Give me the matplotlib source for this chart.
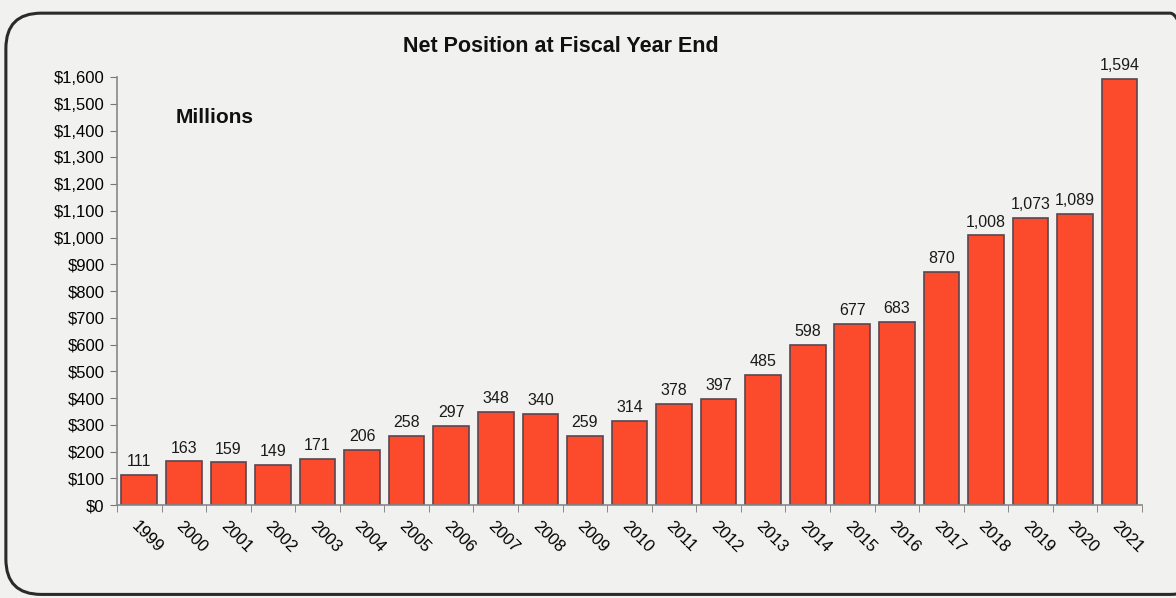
import matplotlib
matplotlib.use("Agg")
import matplotlib.pyplot as plt
from matplotlib.patches import FancyBboxPatch
from matplotlib.ticker import FuncFormatter

plt.rcParams['font.family'] = ['Liberation Sans', 'DejaVu Sans']

# Net position by fiscal year, millions of dollars
years = [str(y) for y in range(1999, 2022)]
net_position = [111, 163, 159, 149, 171, 206, 258, 297, 348, 340, 259, 314,
                378, 397, 485, 598, 677, 683, 870, 1008, 1073, 1089, 1594]

bg = '#f1f1ef'
fig = plt.figure(figsize=(11.76, 5.98), dpi=100, facecolor=bg)

# rounded frame around the chart
frame = FancyBboxPatch((0.005, 0.006), 1.02, 0.972,
                       boxstyle="round,pad=0,rounding_size=0.03",
                       transform=fig.transFigure, facecolor='none',
                       edgecolor='#2a2a2a', linewidth=2.2, clip_on=False,
                       mutation_aspect=1176 / 598)
fig.patches.append(frame)

ax = fig.add_axes([0.0995, 0.1555, 0.8715, 0.7155])
ax.set_facecolor(bg)

x = range(len(years))
ax.bar(x, net_position, width=0.8, color='#fb4a2c', edgecolor='#5b4650', linewidth=1.2)

for xi, v in zip(x, net_position):
    ax.text(xi, v + 22, f"{v:,}", ha='center', va='bottom', fontsize=11.5,
            color='#1a1a1a', clip_on=False)

ax.set_xlim(-0.5, len(years) - 0.5)
ax.set_ylim(0, 1600)
ax.set_yticks(range(0, 1700, 100))
ax.yaxis.set_major_formatter(FuncFormatter(lambda v, p: f"${int(v):,}"))
ax.tick_params(axis='y', labelsize=12, length=5, color='#777777', pad=4)

# category labels centred under bars, tick marks between bars
ax.set_xticks(list(x))
ax.set_xticklabels(years, rotation=-45, ha='left', rotation_mode='anchor', fontsize=12)
ax.tick_params(axis='x', which='major', length=0, pad=10)
ax.set_xticks([i - 0.5 for i in range(len(years) + 1)], minor=True)
ax.tick_params(axis='x', which='minor', length=5, color='#777777')

for side in ['top', 'right']:
    ax.spines[side].set_visible(False)
for side in ['left', 'bottom']:
    ax.spines[side].set_color('#888888')
    ax.spines[side].set_linewidth(1.2)

fig.text(0.477, 0.923, "Net Position at Fiscal Year End", ha='center', va='center',
         fontsize=15.5, fontweight='bold', color='#111111')
ax.text(1.7, 1450, "Millions", ha='center', va='center', fontsize=15,
        fontweight='bold', color='#111111')

plt.savefig("out.png", dpi=100, facecolor=bg)
